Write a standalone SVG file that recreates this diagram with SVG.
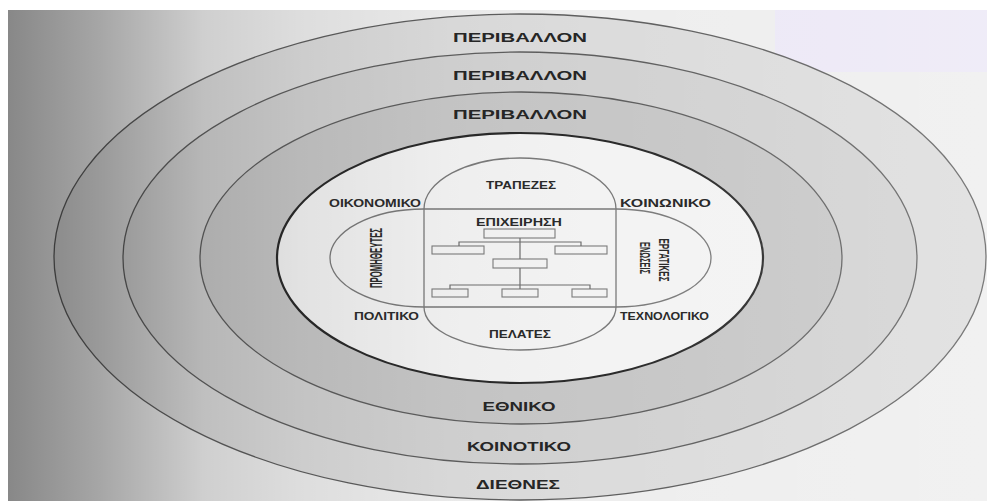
<svg xmlns="http://www.w3.org/2000/svg" width="987" height="501" viewBox="0 0 987 501">
<defs>
<linearGradient id="shadeL" gradientUnits="userSpaceOnUse" x1="8" y1="0" x2="987" y2="0">
<stop offset="0" stop-color="#000" stop-opacity="0.43"/>
<stop offset="0.095" stop-color="#000" stop-opacity="0.3"/>
<stop offset="0.2" stop-color="#000" stop-opacity="0.13"/>
<stop offset="0.3" stop-color="#000" stop-opacity="0.07"/>
<stop offset="0.45" stop-color="#000" stop-opacity="0.02"/>
<stop offset="0.6" stop-color="#000" stop-opacity="0"/>
<stop offset="0.62" stop-color="#fff" stop-opacity="0"/>
<stop offset="1" stop-color="#fff" stop-opacity="0.18"/>
</linearGradient>
<style>
.ring{stroke:#5e5e5e;stroke-width:1.3}
.core{fill:#f3f3f3;stroke:#2a2a2a;stroke-width:2.2}
.shape{fill:none;stroke:#7a7a7a;stroke-width:1.3}
.box{fill:none;stroke:#7a7a7a;stroke-width:1.1}
.ln{fill:none;stroke:#6e6e6e;stroke-width:1.2}
.big{font-family:"Liberation Sans","Noto Sans",sans-serif;font-weight:bold;font-size:13px;fill:#262626;text-anchor:middle}
.sm{font-family:"Liberation Sans","Noto Sans",sans-serif;font-weight:bold;font-size:11px;fill:#2a2a2a}
.vt{font-family:"Liberation Sans","Noto Sans",sans-serif;font-weight:bold;font-size:14px;fill:#2a2a2a;text-anchor:middle;dominant-baseline:central}
</style>
</defs>
<rect x="0" y="0" width="987" height="501" fill="#ffffff"/>
<rect x="8" y="10" width="979" height="491" fill="#eeeeee"/>
<rect x="775" y="10" width="212" height="62" fill="#ece8f6"/>

<g id="ring-dietnes">
<ellipse class="ring" cx="520" cy="257" rx="466" ry="243" fill="#dcdcdc"/>
</g>
<g id="ring-koinotiko">
<ellipse class="ring" cx="520" cy="258" rx="397" ry="206" fill="#d2d2d2"/>
</g>
<g id="ring-ethniko">
<ellipse class="ring" cx="521" cy="258" rx="321" ry="166" fill="#c7c7c7"/>
</g>
<g id="core">
<ellipse class="core" cx="520" cy="258" rx="243" ry="125"/>
</g>
<g id="stakeholders-vertical">
<path class="shape" d="M424,209 A96,51 0 0 1 616,209 L616,307 A96,43 0 0 1 424,307 Z"/>
</g>
<g id="stakeholders-horizontal">
<path class="shape" d="M424,209 L616,209 A95,49 0 0 1 616,307 L424,307 A94,49 0 0 1 424,209 Z"/>
</g>

<g id="org-top"><rect class="box" x="484" y="229" width="71" height="9"/></g>
<g id="org-left"><rect class="box" x="432" y="246" width="52" height="8"/></g>
<g id="org-right"><rect class="box" x="555" y="246" width="52" height="8"/></g>
<g id="org-mid"><rect class="box" x="493" y="259" width="54" height="9"/></g>
<g id="org-bl"><rect class="box" x="432" y="289" width="36" height="8"/></g>
<g id="org-bm"><rect class="box" x="502" y="289" width="36" height="8"/></g>
<g id="org-br"><rect class="box" x="572" y="289" width="35" height="8"/></g>

<g id="connectors">
<path class="ln" d="M520,238 V259 M520,268 V285"/>
<path class="ln" d="M459,246 V242 H581 V246"/>
<path class="ln" d="M450,289 V285 H590 V289 M520,285 V289"/>
</g>

<rect x="8" y="10" width="979" height="491" fill="url(#shadeL)"/>

<g id="labels-rings">
<text class="big" x="520" y="42" textLength="134" lengthAdjust="spacingAndGlyphs">ΠΕΡΙΒΑΛΛΟΝ</text>
<text class="big" x="520" y="80" textLength="134" lengthAdjust="spacingAndGlyphs">ΠΕΡΙΒΑΛΛΟΝ</text>
<text class="big" x="520" y="119" textLength="134" lengthAdjust="spacingAndGlyphs">ΠΕΡΙΒΑΛΛΟΝ</text>
<text class="big" x="519" y="411" textLength="73" lengthAdjust="spacingAndGlyphs">ΕΘΝΙΚΟ</text>
<text class="big" x="519" y="451" textLength="104" lengthAdjust="spacingAndGlyphs">ΚΟΙΝΟΤΙΚΟ</text>
<text class="big" x="518" y="489" textLength="84" lengthAdjust="spacingAndGlyphs">ΔΙΕΘΝΕΣ</text>
</g>
<g id="labels-inner">
<text class="sm" x="486" y="189" textLength="70" lengthAdjust="spacingAndGlyphs">ΤΡΑΠΕΖΕΣ</text>
<text class="sm" x="329" y="207" textLength="92" lengthAdjust="spacingAndGlyphs">ΟΙΚΟΝΟΜΙΚΟ</text>
<text class="sm" x="620" y="207" textLength="91" lengthAdjust="spacingAndGlyphs">ΚΟΙΝΩΝΙΚΟ</text>
<text class="sm" x="476" y="226" textLength="86" lengthAdjust="spacingAndGlyphs">ΕΠΙΧΕΙΡΗΣΗ</text>
<text class="sm" x="354" y="320" textLength="65" lengthAdjust="spacingAndGlyphs">ΠΟΛΙΤΙΚΟ</text>
<text class="sm" x="620" y="320" textLength="89" lengthAdjust="spacingAndGlyphs">ΤΕΧΝΟΛΟΓΙΚΟ</text>
<text class="sm" x="489" y="338" textLength="62" lengthAdjust="spacingAndGlyphs">ΠΕΛΑΤΕΣ</text>
<text class="vt" x="376" y="258" transform="rotate(-90 376 258)" style="font-size:17px" textLength="60" lengthAdjust="spacingAndGlyphs">ΠΡΟΜΗΘΕΥΤΕΣ</text>
<text class="vt" x="664" y="260" transform="rotate(90 664 260)" textLength="43" lengthAdjust="spacingAndGlyphs">ΕΡΓΑΤΙΚΕΣ</text>
<text class="vt" x="645" y="258" transform="rotate(90 645 258)" textLength="32" lengthAdjust="spacingAndGlyphs">ΕΝΩΣΕΙΣ</text>
</g>
</svg>
